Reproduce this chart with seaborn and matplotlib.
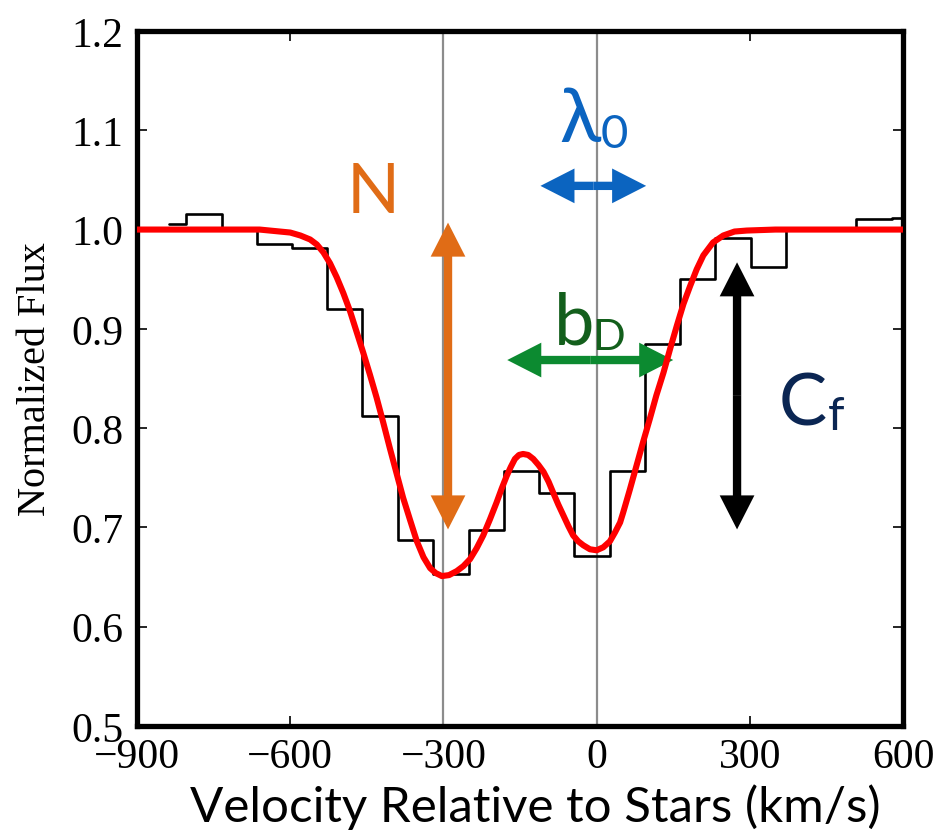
import matplotlib
matplotlib.use("Agg")
import matplotlib.pyplot as plt
import seaborn as sns
import pandas as pd

# Binned spectrum: bin-centre velocities (km/s) and normalized flux
bin_velocity = [-838, -769, -700, -631, -562, -493, -424, -355, -285, -216, -147,
                -78, -9, 60, 129, 198, 267, 336, 405, 474, 543, 612]
bin_flux = [1.006, 1.016, 1.000, 0.985, 0.981, 0.920, 0.812, 0.687, 0.653, 0.697, 0.757,
            0.735, 0.671, 0.757, 0.885, 0.950, 0.991, 0.962, 1.000, 1.000, 1.011, 1.012]

# Best-fit absorption profile sampled along velocity
fit_velocity = [-900, -700, -660, -620, -600, -580, -561, -548, -535, -522, -509, -496,
                -483, -470, -457, -444, -431, -418, -405, -392, -379, -365, -352, -339,
                -326, -315, -303, -289, -274, -261, -248, -235, -222, -209, -196, -186,
                -176, -168, -160, -152, -144, -134, -124, -114, -104, -94, -85, -75,
                -65, -55, -46, -36, -26, -13, 0, 13, 26, 36, 46, 52, 65, 78, 91, 104,
                117, 131, 144, 157, 170, 183, 196, 209, 228, 248, 270, 294, 350, 600]
fit_flux = [1.000, 1.000, 1.000, 0.998, 0.997, 0.994, 0.990, 0.985, 0.977, 0.966, 0.952,
            0.936, 0.918, 0.897, 0.876, 0.854, 0.831, 0.806, 0.780, 0.755, 0.730, 0.707,
            0.686, 0.670, 0.659, 0.654, 0.651, 0.652, 0.656, 0.661, 0.668, 0.679, 0.692,
            0.708, 0.725, 0.739, 0.752, 0.761, 0.769, 0.773, 0.774, 0.773, 0.769, 0.763,
            0.756, 0.746, 0.735, 0.723, 0.712, 0.701, 0.692, 0.686, 0.682, 0.678, 0.677,
            0.680, 0.686, 0.695, 0.705, 0.715, 0.738, 0.762, 0.786, 0.809, 0.833, 0.856,
            0.880, 0.903, 0.925, 0.943, 0.960, 0.974, 0.987, 0.994, 0.998, 0.999, 1.000,
            1.000]

component_centres = [-300, 0]

x_ticks = [-900, -600, -300, 0, 300, 600]
y_ticks = [0.5, 0.6, 0.7, 0.8, 0.9, 1.0, 1.1, 1.2]

spec = pd.DataFrame({"velocity": bin_velocity, "flux": bin_flux})
fit = pd.DataFrame({"velocity": fit_velocity, "flux": fit_flux})

sns.set_theme(style="ticks")
plt.rcParams["font.family"] = ["Liberation Serif", "DejaVu Serif"]

fig = plt.figure(figsize=(9.43, 8.37), dpi=100)
ax = fig.add_axes([0.1453, 0.1314, 0.8123, 0.8304])

for c in component_centres:
    ax.axvline(c, color="#8c8c8c", lw=1.6, zorder=1)

sns.lineplot(data=spec, x="velocity", y="flux", ax=ax, color="black", lw=1.9,
             drawstyle="steps-mid", estimator=None, sort=True, zorder=2)
sns.lineplot(data=fit, x="velocity", y="flux", ax=ax, color="#ff0000", lw=4.4,
             estimator=None, sort=True, zorder=4, solid_joinstyle="round",
             solid_capstyle="butt")


def double_arrow(p0, p1, color):
    mid = ((p0[0] + p1[0]) / 2, (p0[1] + p1[1]) / 2)
    style = "simple,head_length=2.45,head_width=2.5,tail_width=0.6"
    for end in (p0, p1):
        ax.annotate("", xy=end, xytext=mid,
                    arrowprops=dict(arrowstyle=style, color=color, lw=0,
                                    shrinkA=0, shrinkB=0, mutation_scale=10),
                    zorder=3)


orange = "#e06c16"
blue = "#0b64c0"
green = "#0c8a30"
dark_green = "#135f1c"
navy = "#0b2653"
sans = ["Lato", "Noto Sans", "DejaVu Sans"]

double_arrow((-291, 0.698), (-291, 1.007), orange)
double_arrow((-110, 1.044), (97, 1.044), blue)
double_arrow((-175, 0.8686), (150, 0.8686), green)
double_arrow((275, 0.698), (275, 0.967), "black")

ax.text(-438, 1.018, "N", color=orange, fontsize=50, family=sans,
        ha="center", va="baseline")
ax.text(-32, 1.089, "λ", color=blue, fontsize=55, family=sans,
        ha="center", va="baseline")
ax.text(35, 1.083, "0", color=blue, fontsize=34, family=sans,
        ha="center", va="baseline")
ax.text(-45, 0.885, "b", color=dark_green, fontsize=52, family=sans,
        ha="center", va="baseline")
ax.text(24, 0.880, "D", color=dark_green, fontsize=31, family=sans,
        ha="center", va="baseline")
ax.text(404, 0.804, "C", color=navy, fontsize=52, family=sans,
        ha="center", va="baseline")
ax.text(470, 0.799, "f", color=navy, fontsize=34, family=sans,
        ha="center", va="baseline")

ax.set_xlim(-900, 600)
ax.set_ylim(0.5, 1.2)
ax.set_xticks(x_ticks)
ax.set_yticks(y_ticks)
ax.set_xticklabels([f"{t:d}".replace("-", "\u2212") for t in x_ticks])
ax.set_yticklabels([f"{t:.1f}" for t in y_ticks])
ax.tick_params(direction="in", length=7, width=1.2, top=True, right=True,
               labelsize=30, color="black", labelcolor="black")
ax.tick_params(axis="x", pad=8)
ax.tick_params(axis="y", pad=10)
for s in ax.spines.values():
    s.set_linewidth(3.8)
    s.set_color("black")
    s.set_visible(True)

ax.set_xlabel("Velocity Relative to Stars (km/s)", fontsize=35.5, family=sans,
              color="black")
ax.xaxis.set_label_coords(0.52, -0.083)
ax.set_ylabel("Normalized Flux", fontsize=29, color="black", labelpad=12)

fig.savefig("out.png", dpi=100, facecolor="white")
